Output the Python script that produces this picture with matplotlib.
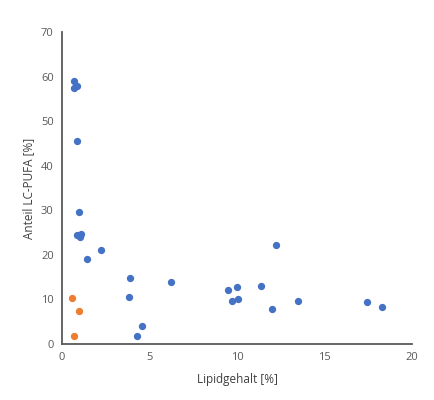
import matplotlib
matplotlib.use('Agg')
import matplotlib.pyplot as plt

# Daten
lipid_blau = [0.67, 0.69, 0.84, 0.87, 0.97, 0.88, 1.07, 1.0, 1.41, 2.2, 3.9, 3.8,
              4.55, 4.3, 6.2, 9.47, 10.0, 9.7, 10.08, 12.25, 11.35, 12.0, 13.47,
              17.43, 18.3]
pufa_blau = [59.1, 57.4, 57.9, 45.5, 29.6, 24.4, 24.7, 24.1, 19.1, 21.1, 14.7, 10.5,
             4.1, 1.9, 13.8, 12.2, 12.9, 9.6, 10.0, 22.1, 13.0, 7.9, 9.6,
             9.4, 8.2]
lipid_orange = [0.57, 0.99, 0.67]
pufa_orange = [10.3, 7.5, 1.9]

plt.rcParams['font.family'] = ['Open Sans', 'DejaVu Sans']

fig = plt.figure(figsize=(4.34, 4.0), dpi=100)
ax = fig.add_axes([0.143, 0.14, 0.806, 0.78])

ax.scatter(lipid_blau, pufa_blau, s=18, color='#4472C4', zorder=3)
ax.scatter(lipid_orange, pufa_orange, s=18, color='#ED7D31', zorder=3)

ax.set_xlim(0, 20)
ax.set_ylim(0, 70)
ax.set_xticks([0, 5, 10, 15, 20])
ax.set_yticks(range(0, 71, 10))

for s in ['top', 'right']:
    ax.spines[s].set_visible(False)
for s in ['left', 'bottom']:
    ax.spines[s].set_color('#595959')
    ax.spines[s].set_linewidth(1.3)

ax.tick_params(length=0, labelsize=8, labelcolor='#595959', pad=6)
ax.set_xlabel('Lipidgehalt [%]', fontsize=8.5, color='#404040', labelpad=7)
ax.set_ylabel('Anteil LC-PUFA [%]', fontsize=8.5, color='#404040', labelpad=4)

fig.savefig('out.png', dpi=100)
